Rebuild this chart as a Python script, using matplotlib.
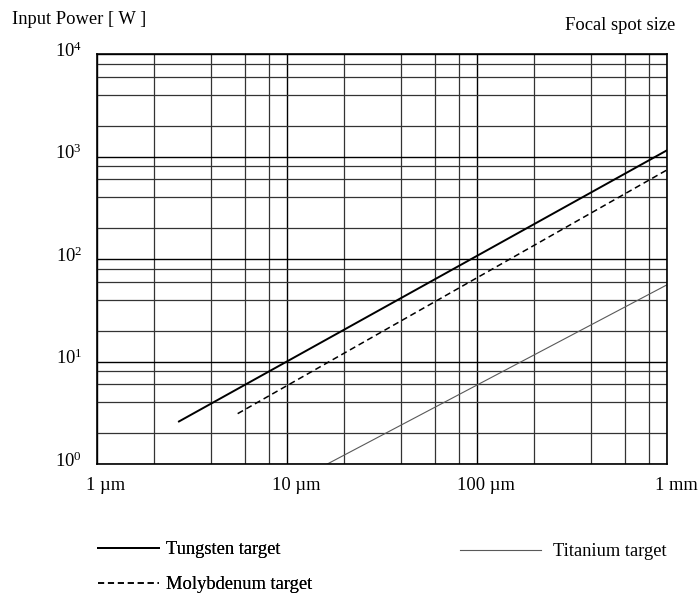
import numpy as np
import matplotlib
matplotlib.use("Agg")
import matplotlib.pyplot as plt
from matplotlib.transforms import ScaledTranslation

plt.rcParams["font.family"] = ["Liberation Serif", "DejaVu Serif"]
plt.rcParams["mathtext.fontset"] = "custom"
plt.rcParams["mathtext.rm"] = "Liberation Serif"

# ── data (focal spot in µm, input power in W) ─────────────────────────────────
tungsten_x = [2.7, 1000]
tungsten_y = [2.6, 1150]
molybdenum_x = [5.5, 1000]
molybdenum_y = [3.1, 740]
titanium_x = [16.3, 1000]
titanium_y = [1.0, 56]

x_ticks = [1, 10, 100, 1000]
x_labels = ["1 \u00b5m", "10 \u00b5m", "100 \u00b5m", "1 mm"]
y_ticks = [1, 10, 100, 1000, 10000]
y_labels = [r"$\mathregular{10^{%d}}$" % k for k in range(5)]
minor_steps = [2, 4, 6, 8]

FS = 13.3

fig = plt.figure(figsize=(6.98, 5.96), dpi=100)
ax = fig.add_axes([97 / 698, 1 - 464 / 596, 570 / 698, 410 / 596])
ax.set_xscale("log")
ax.set_yscale("log")
ax.set_xlim(1, 1000)
ax.set_ylim(1, 10000)

# grid: decades black, intermediate lines a bit lighter
x_minor = [m * d for d in x_ticks[:-1] for m in minor_steps]
y_minor = [m * d for d in y_ticks[:-1] for m in minor_steps]
ax.set_xticks(x_ticks)
ax.set_yticks(y_ticks)
ax.set_xticks(x_minor, minor=True)
ax.set_yticks(y_minor, minor=True)
ax.set_xticklabels([])
ax.set_yticklabels([])
ax.set_xticklabels([], minor=True)
ax.set_yticklabels([], minor=True)
ax.tick_params(which="both", length=0)
ax.grid(which="major", color="black", lw=1.0)
ax.grid(which="minor", color="0.2", lw=0.9)
for sp in ax.spines.values():
    sp.set_linewidth(1.2)
    sp.set_color("black")

# ── curves ───────────────────────────────────────────────────────────────────
l_w, = ax.plot(tungsten_x, tungsten_y, color="black", lw=1.4,
               label="Tungsten target")
l_mo, = ax.plot(molybdenum_x, molybdenum_y, color="black", lw=1.1,
                ls=(0, (4, 2.5)), label="Molybdenum target")
l_ti, = ax.plot(titanium_x, titanium_y, color="0.35", lw=0.8,
                label="Titanium target")

# ── tick labels (drawn as text so they can sit off the grid lines) ───────────
xoff = ScaledTranslation(9 / 100, -13 / 100, fig.dpi_scale_trans)
for xv, lab in zip(x_ticks, x_labels):
    ax.text(xv, 0, lab, transform=ax.get_xaxis_transform() + xoff,
            ha="center", va="top", fontsize=FS)
yoff = ScaledTranslation(-15 / 100, 3 / 100, fig.dpi_scale_trans)
for yv, lab in zip(y_ticks, y_labels):
    ax.text(0, yv, lab, transform=ax.get_yaxis_transform() + yoff,
            ha="right", va="center", fontsize=FS)

fig.text(12 / 698, 1 - 20 / 596, "Input Power [ W ]", ha="left", va="center",
         fontsize=FS)
fig.text(675 / 698, 1 - 25 / 596, "Focal spot size", ha="right", va="center",
         fontsize=FS)

# ── legends ──────────────────────────────────────────────────────────────────
leg1 = fig.legend(handles=[l_w, l_mo], loc="upper left",
                  bbox_to_anchor=(98 / 698, 1 - 541 / 596), frameon=False,
                  fontsize=FS, handlelength=3.3, handletextpad=0.4,
                  labelspacing=1.0, borderpad=0, borderaxespad=0)
fig.legend(handles=[l_ti], loc="upper left",
           bbox_to_anchor=(460 / 698, 1 - 543 / 596), frameon=False,
           fontsize=FS, handlelength=4.4, handletextpad=0.65,
           borderpad=0, borderaxespad=0)
fig.add_artist(leg1)

fig.savefig("out.png", dpi=100)
